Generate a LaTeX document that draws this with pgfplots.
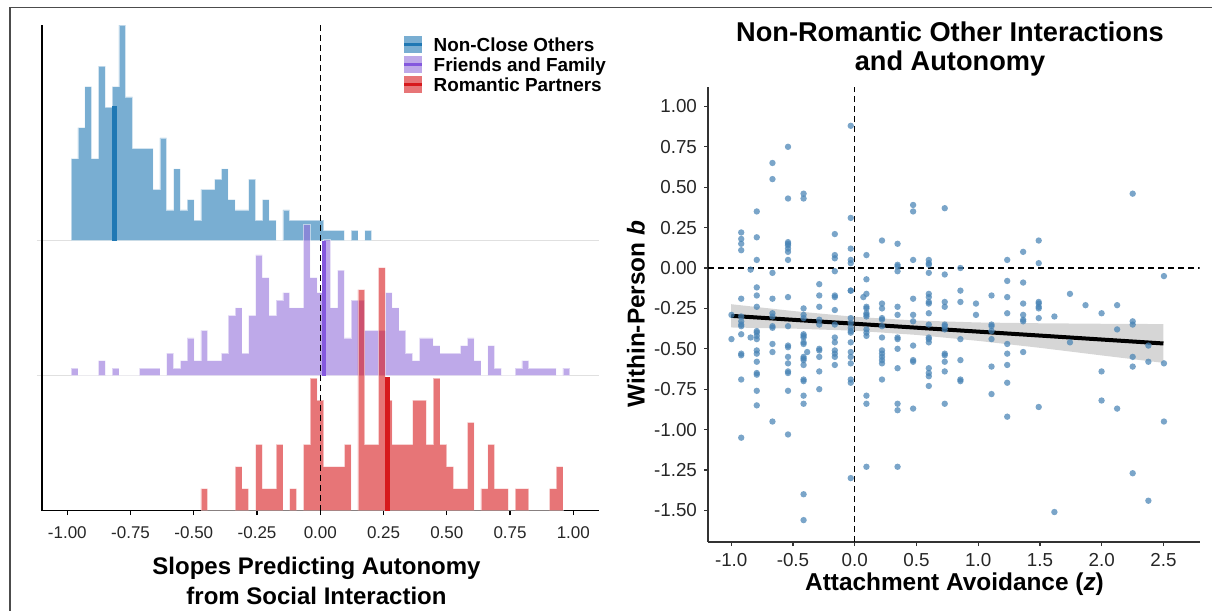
\documentclass[border=0pt]{standalone}
\usepackage{fontspec}
\setmainfont{Liberation Sans}
\usepackage{pgfplots}
\pgfplotsset{compat=1.18}
\definecolor{cblue}{HTML}{1F78B4}
\definecolor{cpurple}{HTML}{9370DB}
\definecolor{cpurpled}{HTML}{8458DE}
\definecolor{cred}{HTML}{D7191C}
\definecolor{steel}{HTML}{4682B4}
\begin{document}
\begin{tikzpicture}
\path[use as bounding box] (0,0) rectangle (606pt,-305.5pt);

% ---------- left panel: three stacked histograms ----------
\pgfplotsset{ridge/.style={scale only axis, anchor=south west, width=278.3pt,
  xmin=-1.1, xmax=1.1, ymin=0, clip=false},
  bars/.style={const plot, fill=#1, fill opacity=0.6, draw=white, draw opacity=0.5, line width=0.35pt},
  dashed0/.style={black, line width=0.75pt, dash pattern=on 3pt off 2pt}}

% Non-Close Others
\begin{axis}[ridge, at={(21pt,-120.35pt)}, height=107.84pt, ymax=21, hide axis]
\addplot[black!12, line width=0.65pt] coordinates {(-1.121,0) (1.102,0)};
\addplot[bars=cblue] table {
x c
-0.985 8
-0.958 11
-0.931 15
-0.904 8
-0.877 17
-0.850 13
-0.823 15
-0.796 21
-0.769 14
-0.742 9
-0.715 9
-0.688 9
-0.661 5
-0.634 10
-0.607 3
-0.580 7
-0.553 3
-0.526 4
-0.499 2
-0.472 5
-0.445 5
-0.418 6
-0.391 7
-0.364 4
-0.337 3
-0.310 3
-0.283 6
-0.256 2
-0.229 4
-0.202 2
-0.175 0
-0.148 3
-0.121 2
-0.094 2
-0.067 2
-0.040 2
-0.013 2
0.014 1
0.041 1
0.068 1
0.095 0
0.122 1
0.149 0
0.176 1
0.203 1
} \closedcycle;
\addplot[cblue, line width=2.2pt] coordinates {(-0.813,0) (-0.813,13.1)};
\end{axis}

% Friends and Family
\begin{axis}[ridge, at={(21pt,-187.85pt)}, height=75.5pt, ymax=20, hide axis]
\addplot[black!12, line width=0.65pt] coordinates {(-1.121,0) (1.102,0)};
\addplot[bars=cpurple] table {
x c
-0.985 1
-0.958 0
-0.931 0
-0.904 0
-0.877 2
-0.850 0
-0.823 1
-0.796 0
-0.769 0
-0.742 0
-0.715 1
-0.688 1
-0.661 1
-0.634 0
-0.607 3
-0.580 1
-0.553 2
-0.526 5
-0.499 2
-0.472 6
-0.445 2
-0.418 2
-0.391 3
-0.364 8
-0.337 9
-0.310 3
-0.283 8
-0.256 16
-0.229 13
-0.202 8
-0.175 10
-0.148 11
-0.121 9
-0.094 9
-0.067 20
-0.040 13
-0.013 11
0.014 18
0.041 9
0.068 14
0.095 5
0.122 10
0.149 10
0.176 6
0.203 6
0.230 6
0.257 11
0.284 9
0.311 6
0.338 3
0.365 2
0.392 5
0.419 5
0.446 4
0.473 3
0.500 3
0.527 3
0.554 4
0.581 5
0.608 2
0.635 0
0.662 4
0.689 1
0.716 0
0.743 0
0.770 1
0.797 2
0.824 1
0.851 1
0.878 1
0.905 1
0.932 0
0.959 1
0.986 1
} \closedcycle;
\addplot[cpurpled, line width=2.2pt] coordinates {(0.015,0) (0.015,17.9)};
\end{axis}

% Romantic Partners (carries the visible axes)
\begin{axis}[ridge, at={(21pt,-255.35pt)}, height=242.85pt, ymax=21.98,
  axis x line*=bottom, axis y line*=left, ytick=\empty,
  xtick={-1,-0.75,-0.5,-0.25,0,0.25,0.5,0.75,1},
  xticklabels={-1.00,-0.75,-0.50,-0.25,0.00,0.25,0.50,0.75,1.00},
  tick align=outside, major tick length=2.2pt,
  axis line style={black, line width=0.65pt}, tick style={black, line width=0.6pt},
  xticklabel style={font=\fontsize{8.5}{9}\selectfont, text=black!85, yshift=-2.2pt}]
\addplot[bars=cred] table {
x c
-0.472 1
-0.445 0
-0.418 0
-0.391 0
-0.364 0
-0.337 2
-0.310 1
-0.283 0
-0.256 3
-0.229 1
-0.202 1
-0.175 3
-0.148 0
-0.121 1
-0.094 0
-0.067 3
-0.040 6
-0.013 5
0.014 2
0.041 2
0.068 2
0.095 3
0.122 0
0.149 10
0.176 3
0.203 3
0.230 11
0.257 5
0.284 3
0.311 3
0.338 3
0.365 5
0.392 5
0.419 3
0.446 6
0.473 3
0.500 2
0.527 1
0.554 1
0.581 4
0.608 0
0.635 1
0.662 3
0.689 1
0.716 1
0.743 0
0.770 1
0.797 1
0.824 0
0.851 0
0.878 0
0.905 1
0.932 2
0.959 2
} \closedcycle;
\addplot[cred, line width=2.2pt] coordinates {(0.265,0) (0.265,6.06)};
\addplot[dashed0] coordinates {(0,0) (0,21.98)};
\end{axis}

% ---------- right panel: scatter ----------
\begin{axis}[at={(354pt,-271pt)}, anchor=south west, scale only axis,
  width=245.75pt, height=227.7pt,
  xmin=-1.188, xmax=2.792, ymin=-1.6955, ymax=1.1225,
  axis x line*=bottom, axis y line*=left,
  xtick={-1,-0.5,0,0.5,1,1.5,2,2.5},
  xticklabels={-1.0,-0.5,0.0,0.5,1.0,1.5,2.0,2.5},
  ytick={-1.5,-1.25,-1,-0.75,-0.5,-0.25,0,0.25,0.5,0.75,1},
  yticklabels={-1.50,-1.25,-1.00,-0.75,-0.50,-0.25,0.00,0.25,0.50,0.75,1.00},
  tick align=outside, major tick length=2pt,
  axis line style={black!80, line width=0.65pt}, tick style={black!80, line width=0.6pt},
  ticklabel style={font=\fontsize{9.4}{10}\selectfont, text=black!85}]
\addplot[dashed0] coordinates {(0,-1.6955) (0,1.1225)};
\addplot[dashed0] coordinates {(-1.188,0) (2.792,0)};
\addplot[only marks, mark=*, mark size=1.6pt,
  mark options={draw opacity=0, fill=steel, fill opacity=0.72}] table {
x y
-0.998 -0.29
-0.998 -0.44
-0.919 0.22
-0.919 0.18
-0.919 0.15
-0.919 0.11
-0.919 -0.19
-0.919 -0.30
-0.919 -0.33
-0.919 -0.35
-0.919 -0.36
-0.919 -0.41
-0.919 -0.53
-0.919 -0.54
-0.919 -0.69
-0.919 -1.05
-0.843 -0.01
-0.843 -0.43
-0.793 0.35
-0.793 0.19
-0.793 0.05
-0.793 -0.12
-0.793 -0.17
-0.793 -0.24
-0.793 -0.39
-0.793 -0.40
-0.793 -0.42
-0.793 -0.44
-0.793 -0.51
-0.793 -0.53
-0.793 -0.58
-0.793 -0.65
-0.793 -0.66
-0.793 -0.76
-0.793 -0.85
-0.666 0.65
-0.666 0.55
-0.666 -0.03
-0.666 -0.19
-0.666 -0.28
-0.666 -0.30
-0.666 -0.36
-0.666 -0.37
-0.666 -0.47
-0.666 -0.52
-0.666 -0.95
-0.540 0.75
-0.540 0.43
-0.540 0.16
-0.540 0.15
-0.540 0.14
-0.540 0.12
-0.540 0.10
-0.540 0.05
-0.540 -0.18
-0.540 -0.36
-0.540 -0.48
-0.540 -0.49
-0.540 -0.55
-0.540 -0.59
-0.540 -0.64
-0.540 -0.65
-0.540 -0.76
-0.540 -1.03
-0.414 0.46
-0.414 0.43
-0.414 -0.25
-0.414 -0.29
-0.414 -0.31
-0.414 -0.41
-0.414 -0.42
-0.414 -0.43
-0.414 -0.46
-0.414 -0.47
-0.414 -0.55
-0.414 -0.56
-0.414 -0.57
-0.414 -0.60
-0.414 -0.69
-0.414 -0.70
-0.414 -0.79
-0.414 -0.84
-0.414 -1.40
-0.414 -1.56
-0.385 -0.52
-0.287 -0.10
-0.287 -0.17
-0.287 -0.24
-0.287 -0.32
-0.287 -0.35
-0.287 -0.50
-0.287 -0.51
-0.287 -0.55
-0.287 -0.64
-0.287 -0.75
-0.161 0.21
-0.161 0.08
-0.161 0.06
-0.161 -0.02
-0.161 -0.17
-0.161 -0.18
-0.161 -0.26
-0.161 -0.35
-0.161 -0.43
-0.161 -0.46
-0.161 -0.51
-0.161 -0.53
-0.161 -0.55
-0.161 -0.60
-0.032 0.88
-0.032 0.31
-0.032 0.12
-0.032 0.05
-0.032 0.03
-0.032 -0.14
-0.032 -0.14
-0.032 -0.31
-0.032 -0.34
-0.032 -0.37
-0.032 -0.39
-0.032 -0.40
-0.032 -0.46
-0.032 -0.52
-0.032 -0.55
-0.032 -0.59
-0.032 -0.69
-0.032 -0.71
-0.032 -1.30
0.095 0.08
0.095 -0.07
0.095 -0.16
0.095 -0.24
0.095 -0.25
0.095 -0.28
0.095 -0.29
0.095 -0.30
0.095 -0.38
0.095 -0.40
0.095 -0.42
0.095 -0.79
0.095 -0.84
0.095 -1.23
0.070 -0.18
0.221 0.17
0.221 -0.22
0.221 -0.25
0.221 -0.31
0.221 -0.32
0.221 -0.36
0.221 -0.43
0.221 -0.51
0.221 -0.53
0.221 -0.55
0.221 -0.57
0.221 -0.59
0.221 -0.69
0.347 0.15
0.347 0.02
0.347 0.01
0.347 -0.02
0.347 -0.24
0.347 -0.29
0.347 -0.43
0.347 -0.44
0.347 -0.50
0.347 -0.62
0.347 -0.84
0.347 -0.88
0.347 -1.23
0.473 0.39
0.473 0.35
0.473 0.05
0.473 -0.19
0.473 -0.29
0.473 -0.33
0.473 -0.48
0.473 -0.57
0.473 -0.58
0.473 -0.87
0.600 0.05
0.600 0.03
0.600 0.02
0.600 -0.03
0.600 -0.16
0.600 -0.18
0.600 -0.21
0.600 -0.22
0.600 -0.28
0.600 -0.35
0.600 -0.43
0.600 -0.44
0.600 -0.46
0.600 -0.62
0.600 -0.65
0.600 -0.67
0.600 -0.73
0.729 0.37
0.729 -0.04
0.729 -0.21
0.729 -0.24
0.729 -0.35
0.729 -0.36
0.729 -0.38
0.729 -0.53
0.729 -0.54
0.729 -0.58
0.729 -0.64
0.729 -0.84
0.856 0.00
0.856 -0.14
0.856 -0.21
0.856 -0.44
0.856 -0.57
0.856 -0.69
0.856 -0.70
0.982 -0.22
0.982 -0.29
1.108 -0.17
1.108 -0.35
1.108 -0.36
1.108 -0.39
1.108 -0.44
1.108 -0.61
1.108 -0.78
1.235 0.05
1.235 -0.08
1.235 -0.18
1.235 -0.28
1.235 -0.47
1.235 -0.53
1.235 -0.60
1.235 -0.71
1.235 -0.92
1.364 0.10
1.364 -0.09
1.364 -0.22
1.364 -0.29
1.364 -0.32
1.364 -0.33
1.364 -0.52
1.490 0.17
1.490 0.03
1.490 -0.21
1.490 -0.22
1.490 -0.24
1.490 -0.25
1.490 -0.31
1.490 -0.86
1.617 -0.30
1.617 -1.51
1.743 -0.16
1.743 -0.46
1.869 -0.23
1.999 -0.28
1.999 -0.64
1.999 -0.82
2.125 -0.23
2.125 -0.38
2.125 -0.87
2.251 0.46
2.251 -0.33
2.251 -0.35
2.251 -0.55
2.251 -0.61
2.251 -1.27
2.378 -0.48
2.378 -0.58
2.378 -1.44
2.504 -0.05
2.504 -0.59
2.504 -0.95
};
% confidence band (upper edge, then lower edge back)
\addplot[draw=none, fill=black!40, fill opacity=0.4] coordinates {
(-1,-0.224) (-0.5,-0.266) (0,-0.302) (0.5,-0.325) (1,-0.337) (1.5,-0.342) (2,-0.345) (2.5,-0.347)
(2.5,-0.587) (2,-0.541) (1.5,-0.494) (1,-0.451) (0.5,-0.414) (0,-0.388) (-0.5,-0.375) (-1,-0.368)};
\addplot[black, line width=2pt] coordinates {(-1,-0.296) (2.5,-0.467)};
\end{axis}

% ---------- texts, legend, frame ----------
\begin{scope}[x=0.5pt, y=-0.5pt]
\draw[black!70, line width=0.7pt] (10,611) -- (10,7.3) -- (1212,7.3);
\foreach \yc/\c/\d/\t in {44.7/cblue/cblue/Non-Close Others, 64.7/cpurple/cpurpled/Friends and Family, 84.7/cred/cred/Romantic Partners}{
  \fill[\c, opacity=0.6] (404.3,\yc-8.7) rectangle (421.7,\yc+8.7);
  \draw[\d, line width=1.35pt] (404.3,\yc) -- (421.7,\yc);
  \node[anchor=base west, inner sep=0pt, font=\bfseries\fontsize{9.45}{10}\selectfont] at (433.3,\yc+6.8) {\t};
}
\node[align=center, font=\bfseries\fontsize{12}{14.75}\selectfont] at (316.5,581) {Slopes Predicting Autonomy\\from Social Interaction};
\node[align=center, font=\bfseries\fontsize{13.6}{14.65}\selectfont] at (950,49) {Non-Romantic Other Interactions\\and Autonomy};
\node[rotate=90, font=\bfseries\fontsize{12.2}{14}\selectfont] at (636,314) {Within-Person \textit{b}};
\node[font=\bfseries\fontsize{12.2}{14}\selectfont] at (954.5,584) {Attachment Avoidance (\textit{z})};
\end{scope}
\end{tikzpicture}
\end{document}
